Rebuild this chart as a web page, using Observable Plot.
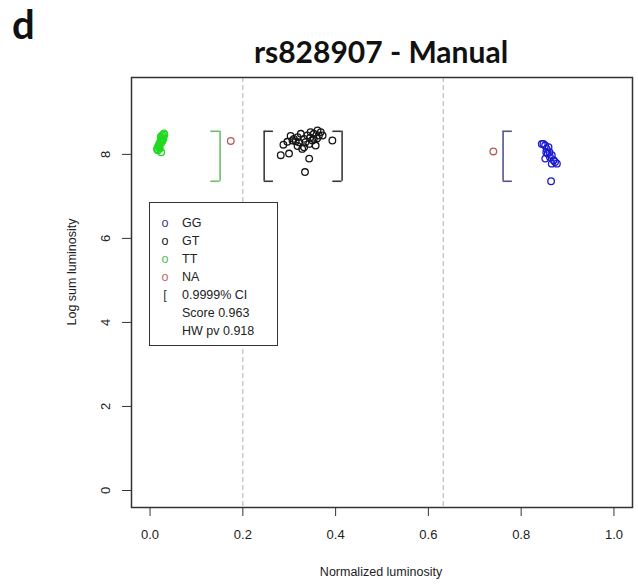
<!DOCTYPE html>
<html>
<head>
<meta charset="utf-8">
<script src="https://cdn.jsdelivr.net/npm/d3@7"></script>
<script src="https://cdn.jsdelivr.net/npm/@observablehq/plot@0.6"></script>
<style>
  html, body { margin: 0; padding: 0; background: #fff; }
  #wrap { position: relative; width: 638px; height: 585px; overflow: hidden; font-family: "Liberation Sans", Arial, sans-serif; }
  #head { position: relative; height: 72px; }
  #panel { position: absolute; left: 12px; top: 2px; line-height: 44px; font-family: Lato, "Open Sans", sans-serif; font-weight: 700; font-size: 40px; color: #111; }
  #title { position: absolute; left: 0; width: 762px; top: 33px; text-align: center; font-family: Lato, "Open Sans", sans-serif; font-weight: 700; font-size: 30px; color: #111; }
  #legend { position: absolute; left: 149px; top: 202px; width: 127px; height: 142px; border: 1.5px solid #333; background: #fff; font-size: 12.5px; color: #222; }
  .row { position: absolute; left: 0; height: 18px; line-height: 18px; }
  .sym { position: absolute; left: 10px; width: 10px; text-align: center; }
  .lab { position: absolute; left: 32px; white-space: nowrap; }
  #ylab { position: absolute; left: 72px; top: 272px; transform: translate(-50%, -50%) rotate(-90deg); font-size: 12.5px; color: #222; white-space: nowrap; }
  #xlab { position: absolute; left: 381px; top: 572px; transform: translate(-50%, -50%); font-size: 12.5px; color: #222; white-space: nowrap; }
</style>
</head>
<body>
<div id="wrap">
  <div id="head">
    <div id="panel">d</div>
    <div id="title">rs828907 - Manual</div>
  </div>
  <div id="chart"></div>
  <div id="legend"></div>
  <div id="ylab">Log sum luminosity</div>
  <div id="xlab">Normalized luminosity</div>
</div>
<script>
// ---- data ----
const genotypes = ["GG", "GT", "TT", "NA"];
const genotypeColors = ["#1a1ad0", "#151515", "#22d822", "#b45a5a"];
const legendColors = ["#3b3b86", "#151515", "#55bb55", "#c06a6a"];

const ggX = [0.8445, 0.8516, 0.855, 0.859, 0.854, 0.861, 0.866, 0.852, 0.870, 0.877, 0.866, 0.873, 0.862, 0.857, 0.848, 0.8645];
const ggY = [8.25, 8.21, 8.13, 8.17, 8.05, 8.05, 7.98, 7.90, 7.86, 7.78, 7.78, 7.82, 7.94, 8.02, 8.25, 7.36];

const gtX = [0.2875, 0.2817, 0.2996, 0.303, 0.310, 0.318, 0.325, 0.332, 0.339, 0.346, 0.353, 0.361, 0.364, 0.368, 0.350, 0.343, 0.332, 0.328, 0.357, 0.321, 0.314, 0.307, 0.335, 0.353, 0.393, 0.343, 0.334, 0.296, 0.318, 0.345, 0.360, 0.372];
const gtY = [8.23, 7.98, 8.02, 8.44, 8.37, 8.41, 8.49, 8.37, 8.45, 8.53, 8.49, 8.57, 8.45, 8.53, 8.33, 8.25, 8.17, 8.13, 8.21, 8.29, 8.31, 8.33, 8.29, 8.37, 8.33, 7.90, 7.58, 8.30, 8.20, 8.40, 8.38, 8.45];

const ttX = [0.015, 0.016, 0.018, 0.020, 0.022, 0.024, 0.026, 0.028, 0.030, 0.025, 0.020, 0.027, 0.029, 0.019, 0.023, 0.021, 0.017, 0.024, 0.026, 0.031];
const ttY = [8.12, 8.16, 8.20, 8.25, 8.30, 8.34, 8.39, 8.44, 8.50, 8.28, 8.18, 8.33, 8.37, 8.22, 8.42, 8.14, 8.10, 8.05, 8.45, 8.47];

const naX = [0.174, 0.740];
const naY = [8.32, 8.07];

// confidence-interval brackets: position, opening side (+1 "[" / -1 "]"), genotype
const ciX = [0.151, 0.246, 0.414, 0.761];
const ciSide = [-1, 1, -1, 1];
const ciGenotype = ["TT", "GT", "GT", "GG"];
const ciLow = [7.36, 7.36, 7.36, 7.36];
const ciHigh = [8.55, 8.55, 8.55, 8.55];
const ciColors = {TT: "#6cbf6c", GT: "#3a3a3a", GG: "#55558a"};

// genotype-calling thresholds
const thresholds = [0.2, 0.632];

const xTicks = [0, 0.2, 0.4, 0.6, 0.8, 1.0];
const yTicks = [0, 2, 4, 6, 8];

const legendLabels = ["GG", "GT", "TT", "NA", "0.9999% CI", "Score 0.963", "HW pv 0.918"];
const legendSymbols = ["o", "o", "o", "o", "[", "", ""];

// ---- tables ----
const points = [];
const addSeries = (g, xs, ys) => xs.forEach((x, i) => points.push({g, x, y: ys[i]}));
addSeries("TT", ttX, ttY);
addSeries("GT", gtX, gtY);
addSeries("GG", ggX, ggY);
addSeries("NA", naX, naY);

const serif = 0.02;
const brackets = ciX.map((x, i) => ({x, side: ciSide[i], g: ciGenotype[i], lo: ciLow[i], hi: ciHigh[i]}));
const serifs = brackets.flatMap(b => [b.lo, b.hi].map(y => ({x1: b.x, x2: b.x + b.side * serif, y, g: b.g})));

const chart = Plot.plot({
  width: 638,
  height: 513,
  marginLeft: 131,
  marginRight: 6,
  marginTop: 5,
  marginBottom: 78,
  style: {fontFamily: "'Liberation Sans', Arial, sans-serif", fontSize: "13px", color: "#222", background: "#fff"},
  x: {domain: [-0.04, 1.04], label: null},
  y: {domain: [-0.405, 9.83], label: null},
  marks: [
    Plot.ruleX(thresholds, {stroke: "#b8b8b8", strokeWidth: 1.1, strokeDasharray: "5,3"}),
    Plot.ruleX(brackets, {x: "x", y1: "lo", y2: "hi", stroke: d => ciColors[d.g], strokeWidth: 1.6}),
    Plot.ruleY(serifs, {y: "y", x1: "x1", x2: "x2", stroke: d => ciColors[d.g], strokeWidth: 1.6}),
    Plot.dot(points, {x: "x", y: "y", r: 3.3, strokeWidth: 1.3, fill: "none",
      stroke: d => genotypeColors[genotypes.indexOf(d.g)]}),
    Plot.frame({stroke: "#333", strokeWidth: 1.5}),
    Plot.axisX({ticks: xTicks, tickSize: 9, tickPadding: 13, tickFormat: d3.format(".1f"), label: null, stroke: "#333"}),
    Plot.axisY({ticks: yTicks, tickSize: 9, tickPadding: 13, tickRotate: -90, tickFormat: d3.format("d"), label: null, stroke: "#333"})
  ]
});
document.getElementById("chart").appendChild(chart);

// legend
const leg = document.getElementById("legend");
legendLabels.forEach((lab, i) => {
  const row = document.createElement("div");
  row.className = "row";
  row.style.top = (11 + i * 18) + "px";
  row.style.width = "120px";
  const s = document.createElement("span");
  s.className = "sym";
  s.textContent = legendSymbols[i];
  s.style.color = i < 4 ? legendColors[i] : "#333";
  const t = document.createElement("span");
  t.className = "lab";
  t.textContent = lab;
  row.appendChild(s);
  row.appendChild(t);
  leg.appendChild(row);
});
</script>
</body>
</html>
